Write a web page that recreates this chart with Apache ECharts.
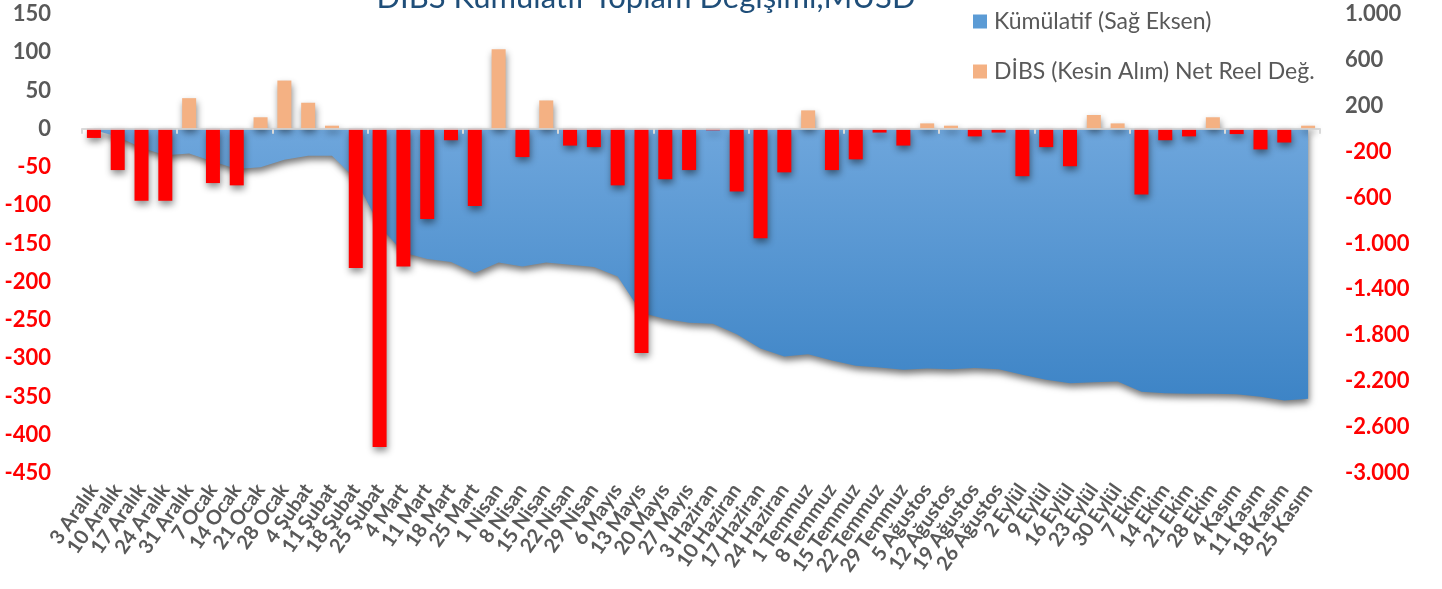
<!DOCTYPE html>
<html>
<head>
<meta charset="utf-8">
<script src="https://cdn.jsdelivr.net/npm/echarts@6/dist/echarts.min.js"></script>
<style>
  html, body { margin: 0; padding: 0; background: #fff; }
  #chart { width: 1442px; height: 589px; }
</style>
</head>
<body>
<div id="chart"></div>
<script>
// haftalar
const weeks = [
  '3 Aralık', '10 Aralık', '17 Aralık', '24 Aralık', '31 Aralık',
  '7 Ocak', '14 Ocak', '21 Ocak', '28 Ocak',
  '4 Şubat', '11 Şubat', '18 Şubat', '25 Şubat',
  '4 Mart', '11 Mart', '18 Mart', '25 Mart',
  '1 Nisan', '8 Nisan', '15 Nisan', '22 Nisan', '29 Nisan',
  '6 Mayıs', '13 Mayıs', '20 Mayıs', '27 Mayıs',
  '3 Haziran', '10 Haziran', '17 Haziran', '24 Haziran',
  '1 Temmuz', '8 Temmuz', '15 Temmuz', '22 Temmuz', '29 Temmuz',
  '5 Ağustos', '12 Ağustos', '19 Ağustos', '26 Ağustos',
  '2 Eylül', '9 Eylül', '16 Eylül', '23 Eylül', '30 Eylül',
  '7 Ekim', '14 Ekim', '21 Ekim', '28 Ekim',
  '4 Kasım', '11 Kasım', '18 Kasım', '25 Kasım'
];
// DİBS (Kesin Alım) net reel değişim, MUSD (sol eksen)
const weekly = [
  -12, -54, -94, -94, 40,
  -71, -74, 15, 63,
  34, 4, -182, -416,
  -180, -118, -15, -101,
  104, -37, 37, -22, -24,
  -74, -293, -66, -54,
  -2, -82, -143, -57,
  24, -54, -40, -5, -22,
  7, 4, -10, -5,
  -62, -24, -49, 18, 7,
  -86, -15, -10, 15,
  -7, -27, -18, 4
];
// kümülatif, MUSD (sağ eksen)
const cumulative = [
  -10, -70, -165, -230, -215,
  -285, -350, -335, -270,
  -235, -235, -440, -850,
  -1078, -1136, -1162, -1258,
  -1165, -1200, -1165, -1185, -1205,
  -1287, -1604, -1659, -1690,
  -1700, -1790, -1915, -1985,
  -1965, -2020, -2065, -2080, -2100,
  -2090, -2095, -2085, -2095,
  -2144, -2187, -2218, -2209, -2202,
  -2292, -2305, -2309, -2309,
  -2314, -2335, -2368, -2353
];
const leftTicks = { min: -450, max: 150, step: 50 };
const rightTicks = { min: -3000, max: 1000, step: 400 };

const font = 'Lato, "Noto Sans", sans-serif';
const grey = '#595959';
const red = '#ff0000';
const orange = '#f4b183';

const dotted = v => String(v).replace(/\B(?=(\d{3})+(?!\d))/g, '.');

const myChart = echarts.init(document.getElementById('chart'));
myChart.setOption({
  backgroundColor: '#fff',
  animation: false,
  title: {
    text: 'DİBS Kümülatif Toplam Değişimi,MUSD',
    left: 641,
    textAlign: 'center',
    top: -23,
    textStyle: { color: '#1f4e79', fontSize: 31, fontWeight: 'normal', fontFamily: font }
  },
  legend: {
    orient: 'vertical',
    left: 968,
    top: 5,
    itemWidth: 14,
    itemHeight: 14,
    itemGap: 27,
    icon: 'rect',
    textStyle: { color: grey, fontSize: 23, fontFamily: font, padding: [0, 0, 0, 2] },
    data: ['Kümülatif (Sağ Eksen)', 'DİBS (Kesin Alım) Net Reel Değ.']
  },
  grid: { left: 82, right: 122, top: 14, bottom: 116, containLabel: false },
  xAxis: [
    {
      type: 'category',
      data: weeks,
      position: 'bottom',
      axisLine: { show: false, onZero: false },
      axisTick: { show: false },
      axisLabel: {
        interval: 0,
        rotate: 55,
        margin: 13,
        color: grey,
        fontSize: 20,
        fontWeight: 'bold',
        fontFamily: font
      }
    },
    {
      type: 'category',
      data: weeks,
      position: 'top',
      z: 10,
      axisLine: { onZero: true, onZeroAxisIndex: 0, lineStyle: { color: 'rgba(210,210,210,0.85)', width: 2 } },
      axisTick: { show: true, inside: true, length: 5, lineStyle: { color: '#d9d9d9', width: 2 } },
      axisLabel: { show: false }
    }
  ],
  yAxis: [
    {
      type: 'value',
      min: leftTicks.min,
      max: leftTicks.max,
      interval: leftTicks.step,
      axisLine: { show: false },
      axisTick: { show: false },
      splitLine: { show: false },
      axisLabel: {
        margin: 31,
        fontSize: 22,
        fontWeight: 'bold',
        fontFamily: font,
        color: v => (v < 0 ? red : grey)
      }
    },
    {
      type: 'value',
      min: rightTicks.min,
      max: rightTicks.max,
      interval: rightTicks.step,
      axisLine: { show: false },
      axisTick: { show: false },
      splitLine: { show: false },
      axisLabel: {
        margin: 25,
        fontSize: 22,
        fontWeight: 'bold',
        fontFamily: font,
        formatter: v => dotted(v),
        color: v => (v < 0 ? red : grey)
      }
    }
  ],
  series: [
    {
      name: 'Kümülatif (Sağ Eksen)',
      type: 'line',
      yAxisIndex: 1,
      z: 1,
      data: cumulative,
      symbol: 'none',
      lineStyle: { width: 0 },
      itemStyle: { color: '#5b9bd5' },
      areaStyle: {
        opacity: 1,
        color: new echarts.graphic.LinearGradient(0, 0, 0, 1, [
          { offset: 0, color: '#6ea6dc' },
          { offset: 1, color: '#3d84c6' }
        ]),
        shadowColor: 'rgba(0,0,0,0.55)',
        shadowBlur: 7,
        shadowOffsetX: 1,
        shadowOffsetY: 4
      }
    },
    {
      name: 'DİBS (Kesin Alım) Net Reel Değ.',
      type: 'bar',
      yAxisIndex: 0,
      z: 4,
      barWidth: 14,
      itemStyle: {
        color: orange,
        shadowColor: 'rgba(0,0,0,0.45)',
        shadowBlur: 7,
        shadowOffsetX: 1,
        shadowOffsetY: 4
      },
      data: weekly.map(v => (v < 0 ? { value: v, itemStyle: { color: red } } : v))
    }
  ]
});
</script>
</body>
</html>
